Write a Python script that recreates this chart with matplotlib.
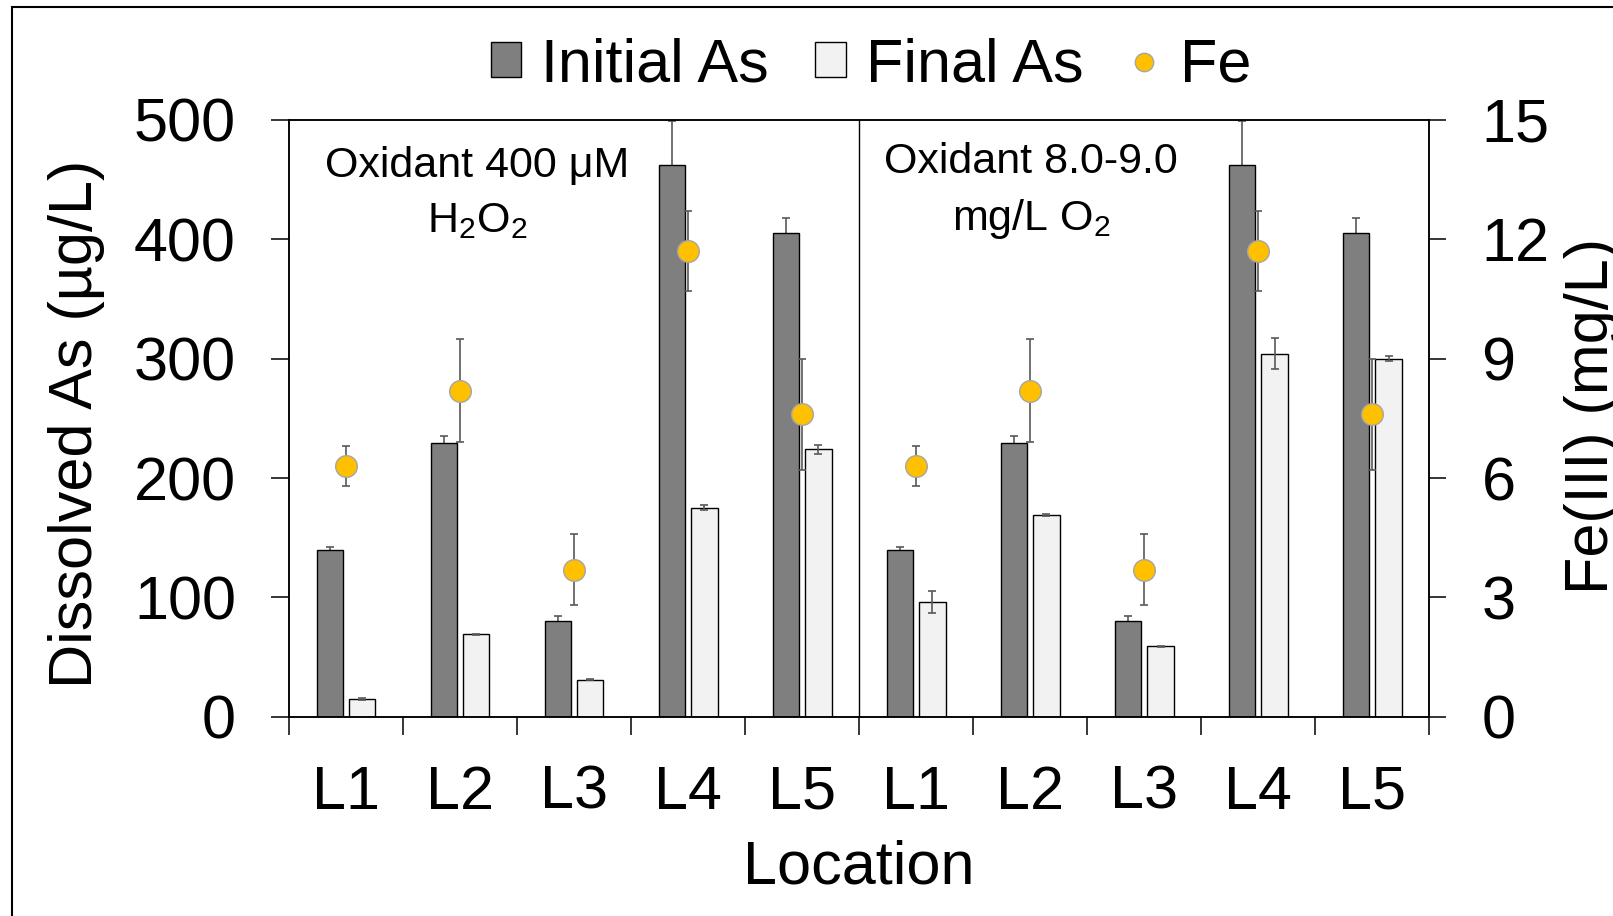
import numpy as np
import matplotlib.pyplot as plt
from matplotlib.patches import Rectangle

plt.rcParams['font.family'] = 'Liberation Sans'
plt.rcParams['mathtext.default'] = 'regular'

# Dati
locations = ['L1', 'L2', 'L3', 'L4', 'L5', 'L1', 'L2', 'L3', 'L4', 'L5']
initial_as = [140, 229, 80, 462, 405, 140, 229, 80, 462, 405]
initial_err = [2, 6, 4, 37, 13, 2, 6, 4, 37, 13]
final_as = [15, 69, 31, 175, 224, 96, 169, 59, 304, 300]
final_err = [1, 0.5, 0.5, 2, 4, 9.5, 1, 0.5, 13, 2]
fe = [6.3, 8.2, 3.7, 11.7, 7.6, 6.3, 8.2, 3.7, 11.7, 7.6]
fe_err = [0.5, 1.3, 0.9, 1.0, 1.4, 0.5, 1.3, 0.9, 1.0, 1.4]

x = np.arange(len(locations))
w = 0.23
off = 0.143
ecol = '#595959'

fig = plt.figure(figsize=(16.13, 9.16), dpi=100)
ax = fig.add_axes([0.17917, 0.21758, 0.88611 - 0.17917, 0.86900 - 0.21758])
ax2 = ax.twinx()

# cornice esterna
fig.add_artist(Rectangle((12 / 1613, -0.05), 1.1, 1 - 7 / 916 + 0.05,
                         transform=fig.transFigure, fill=False,
                         edgecolor='black', lw=1.5))

# barre As
ax.errorbar(x - off, initial_as, yerr=initial_err, fmt='none', ecolor=ecol,
            elinewidth=1.2, capsize=2.8, capthick=1.2, zorder=1)
b1 = ax.bar(x - off, initial_as, w, color='#7f7f7f', edgecolor='black',
            lw=1, zorder=2, label='Initial As')
b2 = ax.bar(x + off, final_as, w, color='#f2f2f2', edgecolor='black',
            lw=1, zorder=2, label='Final As')
ax.errorbar(x + off, final_as, yerr=final_err, fmt='none', ecolor=ecol,
            elinewidth=1.2, capsize=2.8, capthick=1.2, zorder=3)

# Fe sull'asse destro
ax2.errorbar(x, fe, yerr=fe_err, fmt='none', ecolor=ecol,
             elinewidth=1.2, capsize=2.8, capthick=1.2, zorder=2)
l_fe, = ax2.plot(x, fe, 'o', ms=15.6, mfc='#FFC000', mec='#A6A6A6',
                 mew=1, zorder=3, label='Fe')

ax.axvline(4.5, color='black', lw=1)

ax.set_xlim(-0.5, 9.5)
ax.set_ylim(0, 500)
ax2.set_ylim(0, 15)
ax.set_yticks(range(0, 501, 100))
ax2.set_yticks(range(0, 16, 3))

ax.set_xticks(np.arange(-0.5, 10, 1))
ax.tick_params(axis='x', which='major', length=13.3, width=1.1, labelbottom=False)
ax.set_xticks(x, minor=True)
ax.set_xticklabels(locations, minor=True)
ax.tick_params(axis='x', which='minor', length=0, pad=34.5, labelsize=44)
ax.tick_params(axis='y', length=13.2, width=1.1, pad=25, labelsize=44)
ax2.tick_params(axis='y', length=12.5, width=1.1, pad=25, labelsize=44)
for a in (ax, ax2):
    for s in a.spines.values():
        s.set_linewidth(1.1)

# testi ossidante
ax.text(1.15, 452.5, 'Oxidant 400 μM', fontsize=31, ha='center', va='baseline')
ax.text(1.15, 406.4, 'H$_2$O$_2$', fontsize=31, ha='center', va='baseline')
ax.text(6.01, 455.2, 'Oxidant 8.0-9.0', fontsize=31, ha='center', va='baseline')
ax.text(6.01, 408.0, 'mg/L O$_2$', fontsize=31, ha='center', va='baseline')

ax.set_ylabel('Dissolved As (µg/L)', fontsize=44, va='baseline')
ax.yaxis.set_label_coords(-0.1730, 0.491)
ax2.set_ylabel('Fe(III) (mg/L)', fontsize=44, rotation=90, va='baseline')
ax2.yaxis.set_label_coords(1.157, 0.504)
ax.set_xlabel('Location', fontsize=44, va='top')
ax.xaxis.set_label_coords(0.5, -0.205)

fig.legend([b1, b2, l_fe], ['Initial As', 'Final As', 'Fe'], loc='center',
           bbox_to_anchor=(871 / 1613, 1 - 66 / 916), ncol=3, frameon=False,
           fontsize=44, handlelength=0.5, handleheight=0.5, handletextpad=0.33,
           columnspacing=0.75, borderpad=0, markerscale=0.85)

fig.savefig('out.png', dpi=100)
